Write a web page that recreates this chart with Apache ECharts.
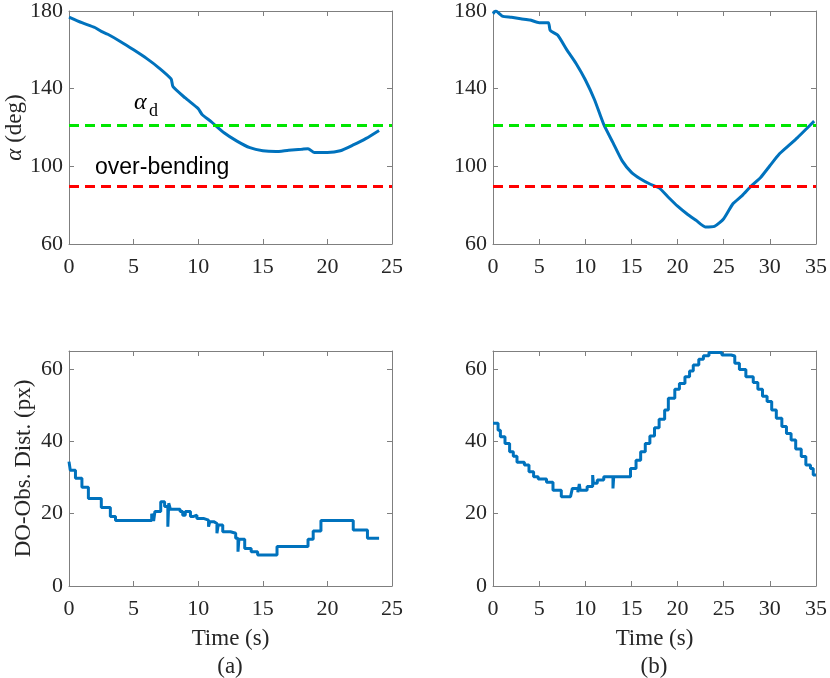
<!DOCTYPE html>
<html>
<head>
<meta charset="utf-8">
<script src="https://cdn.jsdelivr.net/npm/echarts@6/dist/echarts.min.js"></script>
<style>
  html, body { margin: 0; padding: 0; background: #fff; }
  #chart { width: 830px; height: 678px; }
</style>
</head>
<body>
<div id="chart"></div>
<script>
var dom = document.getElementById('chart');
var myChart = echarts.init(dom, null, { renderer: 'canvas' });

// ---- data ----
// (a) bending angle
const timeAlphaA = [0, 1, 2, 2.5, 3, 4, 5, 6, 7, 7.9, 8.05, 9, 10, 10.3, 11, 12, 13, 14, 15, 16, 17, 18, 18.5, 19, 20, 21, 22, 23, 24];
const alphaA = [176.9, 174, 171.5, 169.5, 168, 164.2, 160, 155.6, 150.5, 145, 141, 135.2, 129.7, 126.7, 123, 117.3, 113, 109.6, 108, 107.6, 108.3, 108.8, 109.1, 107.1, 107.1, 108, 111, 114.4, 118.5];
// (b) bending angle
const timeAlphaB = [0, 0.3, 1, 2, 3, 4, 5, 6, 6.2, 7, 8, 9, 10, 11, 12, 13, 14, 15, 16, 17, 18, 19, 20, 21, 22, 23, 24, 25, 26, 27, 28, 29, 30, 31, 32, 33, 34, 34.8];
const alphaB = [178.6, 180, 177.4, 176.8, 176, 175.4, 174, 174, 170, 167.6, 160, 153, 144.6, 134.3, 121.6, 112.2, 102.8, 96.9, 93.5, 90.9, 88.9, 84.1, 79.5, 75.6, 72.2, 68.8, 69.1, 73, 80.7, 84.9, 90, 94.3, 100.3, 106.2, 110.5, 114.8, 119.5, 123.3];
// (a) DO-obstacle distance (stepwise)
const timeDistA = [0, 0.1, 0.5, 1.0, 1.5, 2.5, 3.2, 3.6, 6.4, 6.55, 6.65, 7.1, 7.4, 7.65, 7.72, 7.85, 8.6, 8.8, 9.0, 9.4, 9.6, 9.9, 10.4, 10.8, 10.9, 11.2, 11.45, 11.55, 11.9, 12.5, 12.9, 13.08, 13.15, 13.6, 14.1, 14.6, 16.1, 18.5, 18.9, 19.5, 22, 23.1, 24];
const distA = [34.4, 32, 29.8, 27.3, 24.2, 21.7, 19.2, 18.1, 20, 18, 20.6, 23.3, 22, 16.4, 22.9, 21.2, 20.6, 19.6, 20.6, 19.2, 19.6, 18.7, 18.2, 16.4, 17.8, 17.3, 14.6, 16.9, 15, 14.6, 13.2, 9.5, 12.9, 10.4, 9.5, 8.6, 10.9, 12.9, 15.2, 18.1, 15.5, 13.2, 13.2];
// (b) DO-obstacle distance (stepwise)
const timeDistB = [0, 0.55, 0.8, 1.3, 1.8, 2.2, 2.6, 3.4, 3.9, 4.4, 4.9, 5.8, 6.5, 7.4, 8.4, 8.6, 9.2, 9.35, 9.45, 10.2, 10.8, 10.88, 11.3, 12.0, 13.0, 13.08, 14.9, 15.5, 16.0, 16.5, 17.0, 17.5, 18.0, 18.6, 19.0, 19.7, 20.2, 20.8, 21.3, 21.7, 22.3, 22.8, 23.4, 24.8, 25.8, 26.2, 26.7, 27.4, 28.2, 28.7, 29.2, 29.7, 30.2, 30.7, 31.3, 31.8, 32.3, 32.8, 33.4, 33.9, 34.4, 34.7, 35];
const distB = [45, 43.1, 41.3, 39.4, 37.1, 35.9, 34.2, 33.5, 31.6, 30.2, 29.6, 28.7, 26.5, 24.7, 25.2, 27, 25.9, 28.2, 26.5, 27.5, 30.7, 28.4, 29.3, 30.2, 27, 30.2, 32.5, 34.8, 37.1, 39.4, 41.5, 43.8, 46.1, 48.7, 51.9, 54.4, 56, 57.9, 59.5, 61.1, 62.7, 63.7, 64.6, 63.9, 63.6, 61.6, 59.9, 57.9, 56.3, 54.4, 52.5, 51, 48.7, 46.4, 44.1, 42.2, 40.4, 37.9, 35.8, 33.5, 32.5, 30.7, 30.7];

const alphaDesired = 121;   // green dashed
const overBending = 90;     // red dashed
const timeMax = [25, 35];
const alphaTicks = { min: 60, max: 180, interval: 40 };
const distTicks = { min: 0, max: 65, interval: 20 };
const panelLabels = ['(a)', '(b)'];

function pairs(xs, ys) {
    return xs.map(function (x, i) { return [x, ys[i]]; });
}

const lineBlue = '#0072BD';
const axisGray = '#7f7f7f';
const textDark = '#262626';
const serif = '"Liberation Serif", "Times New Roman", serif';

// grid positions (px)
const grids = [
    { left: 69, top: 8, width: 323, height: 236 },
    { left: 493, top: 8, width: 323, height: 236 },
    { left: 69, top: 351, width: 323, height: 235 },
    { left: 493, top: 351, width: 323, height: 235 }
];

var xAxes = [];
var yAxes = [];
grids.forEach(function (g, i) {
    var col = i % 2;
    var bottomRow = i >= 2;
    var tickStyle = { show: true, inside: true, length: 5, lineStyle: { color: axisGray, width: 1 } };
    var lineStyle = { show: true, onZero: false, lineStyle: { color: axisGray, width: 1 } };
    // bottom x
    xAxes.push({
        type: 'value', gridIndex: i, position: 'bottom',
        min: 0, max: timeMax[col], interval: 5,
        axisLine: lineStyle, axisTick: tickStyle, splitLine: { show: false },
        axisLabel: { color: textDark, fontFamily: serif, fontSize: 22, margin: 12 },
        name: bottomRow ? 'Time (s)' : '',
        nameLocation: 'middle', nameGap: 41,
        nameTextStyle: { color: textDark, fontFamily: serif, fontSize: 23 }
    });
    // top x (box + ticks)
    xAxes.push({
        type: 'value', gridIndex: i, position: 'top',
        min: 0, max: timeMax[col], interval: 5,
        axisLine: lineStyle, axisTick: tickStyle, splitLine: { show: false },
        axisLabel: { show: false }
    });
    var yt = bottomRow ? distTicks : alphaTicks;
    var yName = '';
    if (col === 0) yName = bottomRow ? 'DO-Obs. Dist. (px)' : '{i|α} (deg)';
    yAxes.push({
        type: 'value', gridIndex: i, position: 'left',
        min: yt.min, max: yt.max, interval: yt.interval,
        axisLine: lineStyle, axisTick: tickStyle, splitLine: { show: false },
        axisLabel: { color: textDark, fontFamily: serif, fontSize: 22, margin: 6, showMaxLabel: !bottomRow },
        name: yName, nameLocation: 'middle', nameGap: bottomRow ? 34 : 40,
        nameTextStyle: {
            color: textDark, fontFamily: serif, fontSize: 23,
            rich: { i: { fontStyle: 'italic', fontFamily: serif, fontSize: 23, color: textDark } }
        }
    });
    yAxes.push({
        type: 'value', gridIndex: i, position: 'right',
        min: yt.min, max: yt.max, interval: yt.interval,
        axisLine: lineStyle, axisTick: tickStyle, splitLine: { show: false },
        axisLabel: { show: false }
    });
});

function thresholdLines() {
    return {
        silent: true,
        symbol: 'none',
        label: { show: false },
        data: [
            { yAxis: alphaDesired, lineStyle: { color: '#00e600', type: [10, 6], width: 3 } },
            { yAxis: overBending, lineStyle: { color: '#ff0000', type: [10, 6], width: 3 } }
        ]
    };
}

var option = {
    animation: false,
    backgroundColor: '#ffffff',
    grid: grids,
    xAxis: xAxes,
    yAxis: yAxes,
    series: [
        {
            type: 'line', xAxisIndex: 0, yAxisIndex: 0,
            data: pairs(timeAlphaA, alphaA), showSymbol: false, smooth: 0.2,
            lineStyle: { color: lineBlue, width: 3 },
            markLine: thresholdLines()
        },
        {
            type: 'line', xAxisIndex: 2, yAxisIndex: 2,
            data: pairs(timeAlphaB, alphaB), showSymbol: false, smooth: 0.2,
            lineStyle: { color: lineBlue, width: 3 },
            markLine: thresholdLines()
        },
        {
            type: 'line', xAxisIndex: 4, yAxisIndex: 4, step: 'end',
            data: pairs(timeDistA, distA), showSymbol: false,
            lineStyle: { color: lineBlue, width: 3 }
        },
        {
            type: 'line', xAxisIndex: 6, yAxisIndex: 6, step: 'end',
            data: pairs(timeDistB, distB), showSymbol: false,
            lineStyle: { color: lineBlue, width: 3 }
        }
    ],
    graphic: [
        // alpha_d annotation
        { type: 'text', left: 134, top: 91, style: { text: 'α', font: 'italic 24px ' + serif, fill: '#000' } },
        { type: 'text', left: 149, top: 102, style: { text: 'd', font: '18px ' + serif, fill: '#000' } },
        // over-bending annotation
        { type: 'text', left: 95, top: 156, style: { text: 'over-bending', font: '23px "Liberation Sans", Arial, sans-serif', fill: '#000' } },
        // panel labels
        { type: 'text', x: 230, y: 667, style: { text: panelLabels[0], font: '23px ' + serif, fill: textDark, align: 'center', verticalAlign: 'middle' } },
        { type: 'text', x: 654, y: 667, style: { text: panelLabels[1], font: '23px ' + serif, fill: textDark, align: 'center', verticalAlign: 'middle' } }
    ]
};

myChart.setOption(option);
window.addEventListener('resize', myChart.resize);
</script>
</body>
</html>
